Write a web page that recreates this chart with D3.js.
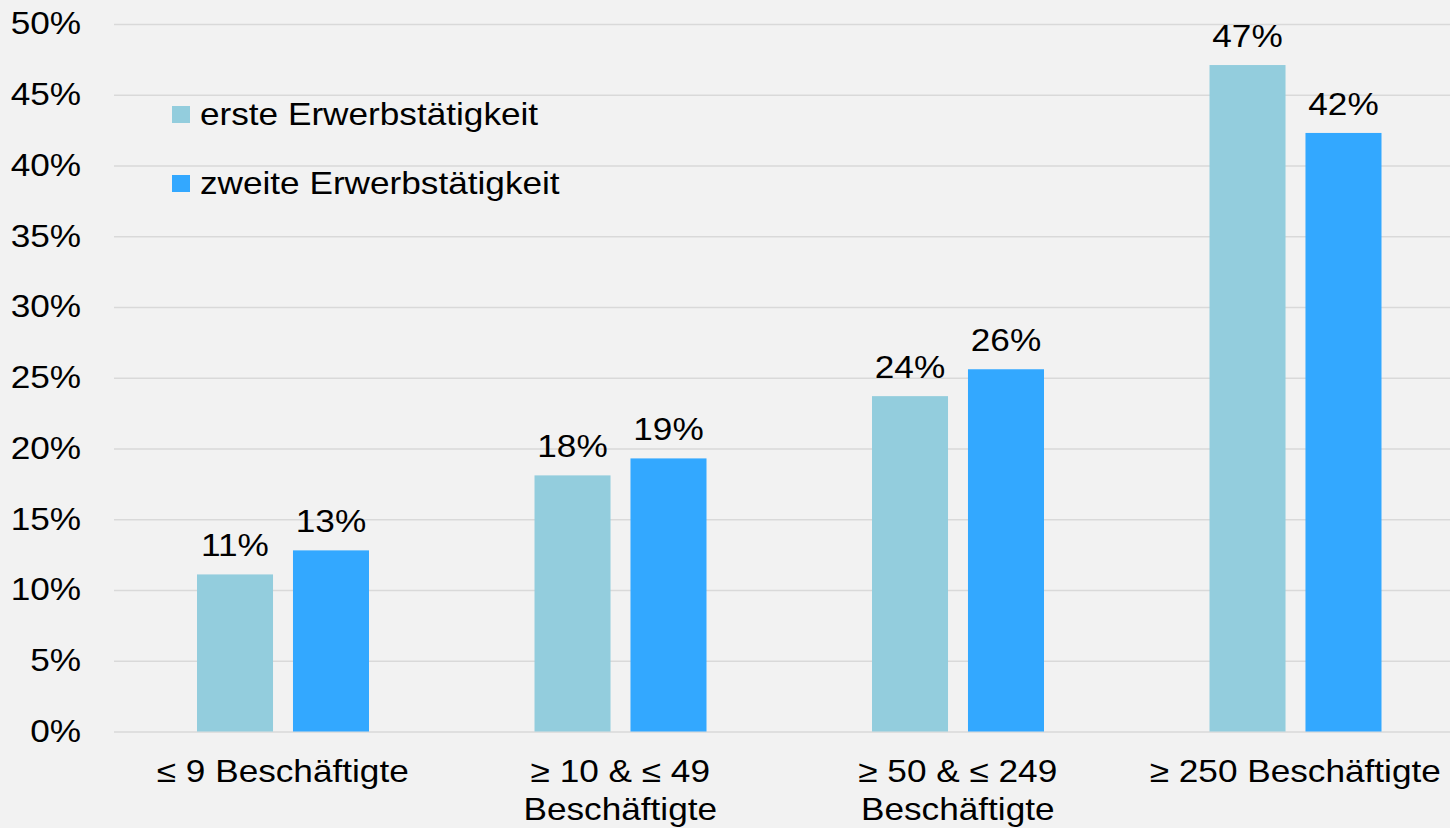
<!DOCTYPE html>
<html>
<head>
<meta charset="utf-8">
<script src="https://cdn.jsdelivr.net/npm/d3@7"></script>
<style>
  body { margin: 0; background: #f2f2f2; }
  svg { display: block; font-family: "Liberation Sans", Arial, sans-serif; }
</style>
</head>
<body>
<div id="chart"></div>
<script>
// data
var categories = [["≤ 9 Beschäftigte"], ["≥ 10 & ≤ 49", "Beschäftigte"], ["≥ 50 & ≤ 249", "Beschäftigte"], ["≥ 250 Beschäftigte"]];
var seriesNames = ["erste Erwerbstätigkeit", "zweite Erwerbstätigkeit"];
var erste = [11.1, 18.1, 23.7, 47.1];
var zweite = [12.8, 19.3, 25.6, 42.3];
var yTicks = [0, 5, 10, 15, 20, 25, 30, 35, 40, 45, 50];
var colors = ["#93cddd", "#33a8ff"];

var width = 1450, height = 828;
var margin = { top: 24, left: 114, bottom: 96 };
var plotRight = 1464;
var sx = 1.135; // text looks horizontally stretched in the original

var svg = d3.select("#chart").append("svg")
    .attr("width", width)
    .attr("height", height);

svg.append("rect").attr("width", width).attr("height", height).attr("fill", "#f2f2f2");

// scales
var x0 = d3.scaleBand()
    .domain(d3.range(categories.length))
    .range([margin.left, plotRight]);

var x1 = d3.scaleBand()
    .domain([0, 1])
    .range([83, 255])
    .paddingInner(0.208);

var y = d3.scaleLinear()
    .domain([0, 50])
    .range([height - margin.bottom - 0.5, margin.top]);

// helper for stretched text
function place(sel, x, yy) {
    return sel.attr("transform", "translate(" + x + "," + yy + ") scale(" + sx + ",1)");
}

// gridlines + y labels
var yAxis = svg.append("g")
    .attr("transform", "translate(" + margin.left + ",0)")
    .call(d3.axisLeft(y).tickValues(yTicks).tickSize(-(width - margin.left)).tickPadding(29).tickFormat(d => d + "%"));

yAxis.select(".domain").remove();
yAxis.selectAll(".tick line").attr("stroke", "#d9d9d9").attr("stroke-width", 1.5);
yAxis.selectAll(".tick text")
    .attr("fill", "#000")
    .attr("transform", "scale(" + sx + ",1)")
    .style("font-size", "31px")
    .attr("font-family", "Liberation Sans, Arial, sans-serif");

// bars
var rows = categories.map((c, i) => ({ i: i, vals: [erste[i], zweite[i]] }));

var groups = svg.selectAll(".grp")
    .data(rows)
    .enter()
    .append("g")
    .attr("class", "grp")
    .attr("transform", d => "translate(" + x0(d.i) + ",0)");

groups.selectAll("rect")
    .data(d => d.vals.map((v, s) => ({ v: v, s: s })))
    .enter()
    .append("rect")
    .attr("x", d => x1(d.s))
    .attr("y", d => y(d.v))
    .attr("width", x1.bandwidth())
    .attr("height", d => y(0) - y(d.v))
    .attr("fill", d => colors[d.s]);

groups.selectAll(".lbl")
    .data(d => d.vals.map((v, s) => ({ v: v, s: s })))
    .enter()
    .append("text")
    .attr("class", "lbl")
    .attr("text-anchor", "middle")
    .style("font-size", "31px")
    .each(function(d) {
        place(d3.select(this), x1(d.s) + x1.bandwidth() / 2, y(d.v) - 18);
    })
    .text(d => Math.round(d.v) + "%");

// category labels
var cat = svg.append("g");
categories.forEach(function(lines, i) {
    var t = cat.append("text")
        .attr("text-anchor", "middle")
        .style("font-size", "31px");
    place(t, x0(i) + x0.bandwidth() / 2, 782);
    lines.forEach(function(l, k) {
        t.append("tspan")
            .attr("x", 0)
            .attr("dy", k === 0 ? 0 : 38)
            .text(l);
    });
});

// legend
var legend = svg.append("g").attr("transform", "translate(172,106)");
seriesNames.forEach(function(n, i) {
    legend.append("rect")
        .attr("x", 0)
        .attr("y", i * 69)
        .attr("width", 18)
        .attr("height", 17)
        .attr("fill", colors[i]);
    var t = legend.append("text")
        .style("font-size", "31px")
        .text(n);
    place(t, 28, i * 69 + 19);
});
</script>
</body>
</html>
